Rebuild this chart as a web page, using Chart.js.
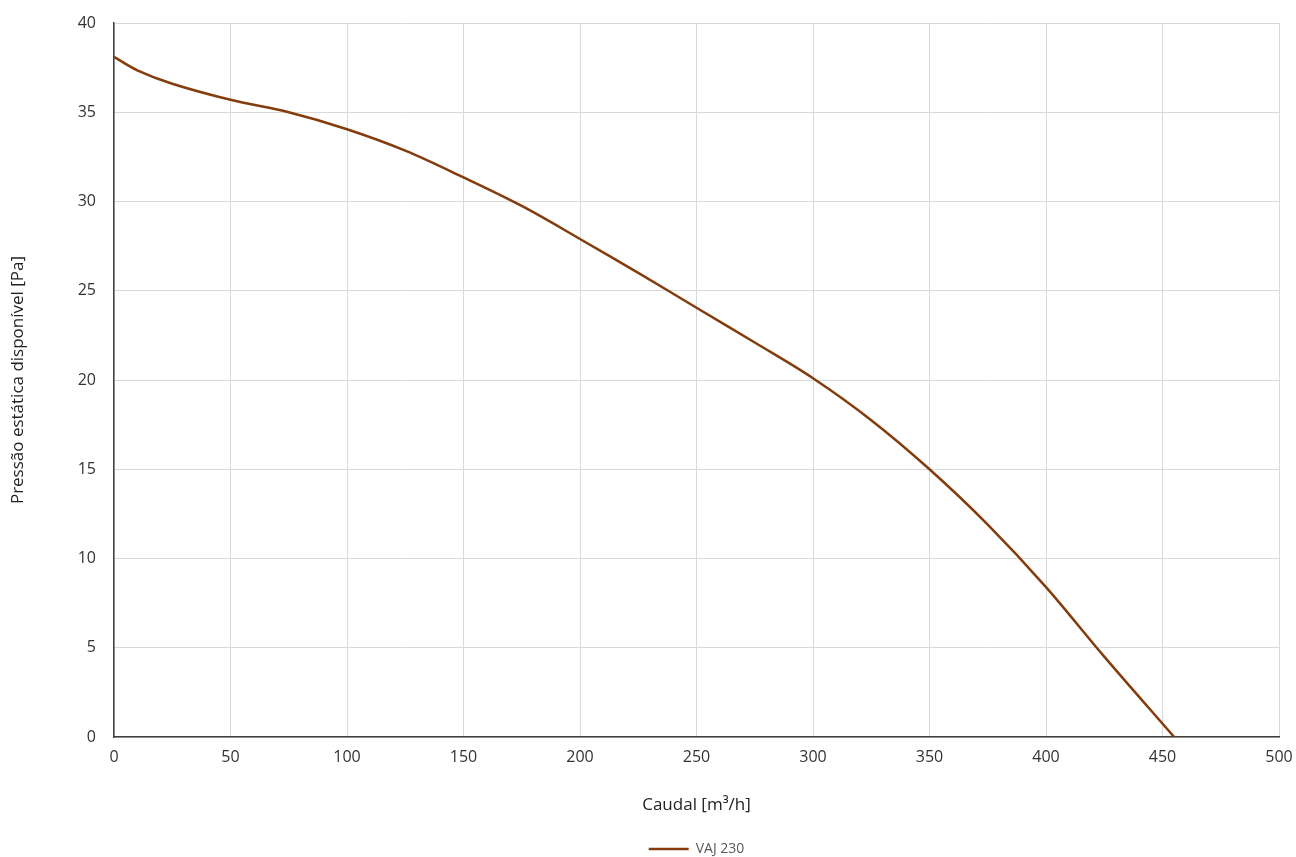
<!DOCTYPE html>
<html>
<head>
<meta charset="utf-8">
<script src="https://cdn.jsdelivr.net/npm/chart.js@4"></script>
<style>
    html, body { margin: 0; padding: 0; background: #fff; }
    #wrap { width: 1296px; height: 857px; }
</style>
</head>
<body>
<div id="wrap"><canvas id="curveChart" width="1296" height="857"></canvas></div>
<script>
// caudal [m3/h] e pressão [Pa]
const caudal = [0, 10, 25, 50, 75, 100, 125, 150, 175, 200, 225, 250, 275, 300, 325, 350, 375, 400, 425, 455];
const pressao = [38.1, 37.35, 36.6, 35.7, 35.0, 34.05, 32.85, 31.35, 29.75, 27.9, 26.0, 24.05, 22.1, 20.1, 17.75, 15.0, 11.9, 8.4, 4.5, 0];
const serieNome = 'VAJ 230';

const xMin = 0, xMax = 500, xStep = 50;
const yMin = 0, yMax = 40, yStep = 5;

const pontos = caudal.map((x, i) => ({ x: x, y: pressao[i] }));

// centra a legenda sobre a área do gráfico (como no Excel) e desce-a um pouco
const legendaCentrada = {
    id: 'legendaCentrada',
    afterLayout(chart) {
        const lg = chart.legend;
        if (lg) {
            lg.left = chart.chartArea.left;
            lg.right = chart.chartArea.right;
            lg.top += 9;
            lg.bottom += 9;
        }
    }
};

const ctx = document.getElementById('curveChart').getContext('2d');
new Chart(ctx, {
    type: 'line',
    data: {
        datasets: [{
            label: serieNome,
            data: pontos,
            borderColor: '#843C0C',
            backgroundColor: '#843C0C',
            borderWidth: 2.5,
            pointRadius: 0,
            pointStyle: 'line',
            tension: 0.35,
            fill: false
        }]
    },
    options: {
        responsive: false,
        animation: false,
        layout: { padding: { top: 23, right: 17, left: 0, bottom: 0 } },
        scales: {
            x: {
                type: 'linear',
                min: xMin, max: xMax,
                ticks: { stepSize: xStep, padding: 11, color: '#333', font: { family: 'Open Sans', size: 16 } },
                grid: { color: '#d9d9d9', lineWidth: 1, drawTicks: false },
                border: { color: '#404040', width: 1.5 },
                title: {
                    display: true,
                    text: 'Caudal [m³/h]',
                    color: '#222',
                    font: { family: 'Open Sans', size: 17 },
                    padding: { top: 0, bottom: 15 }
                },
                afterFit: (s) => { s.height = 93; s.paddingLeft = 0; s.paddingRight = 0; }
            },
            y: {
                min: yMin, max: yMax,
                ticks: { stepSize: yStep, padding: 18, color: '#333', font: { family: 'Open Sans', size: 16 } },
                grid: { color: '#d9d9d9', lineWidth: 1, drawTicks: false },
                border: { color: '#404040', width: 1.5 },
                title: {
                    display: true,
                    text: 'Pressão estática disponível [Pa]',
                    color: '#222',
                    font: { family: 'Open Sans', size: 17 },
                    padding: { top: 8, bottom: 0 }
                },
                afterFit: (s) => { s.width = 114; s.paddingTop = 0; s.paddingBottom = 0; }
            }
        },
        plugins: {
            legend: {
                position: 'bottom',
                labels: {
                    usePointStyle: true,
                    pointStyleWidth: 40,
                    padding: 3,
                    color: '#595959',
                    font: { family: 'Open Sans', size: 14 }
                }
            },
            tooltip: { enabled: false }
        }
    },
    plugins: [legendaCentrada]
});
</script>
</body>
</html>
